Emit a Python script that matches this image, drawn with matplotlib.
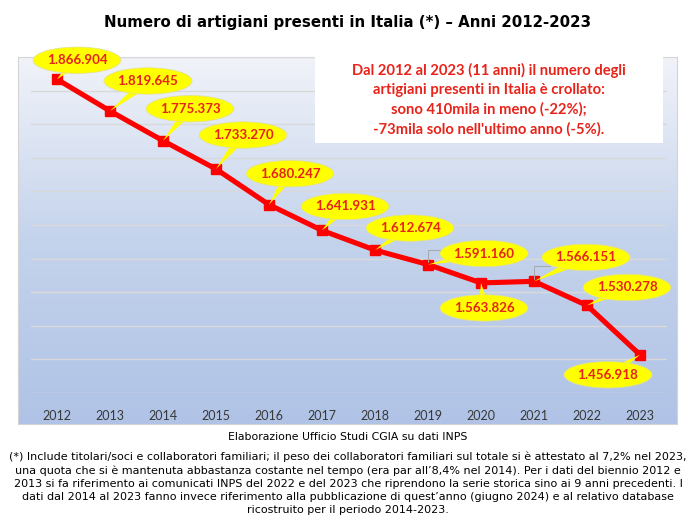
import numpy as np
import matplotlib
matplotlib.use('Agg')
import matplotlib.pyplot as plt
from matplotlib.patches import Rectangle
from matplotlib.colors import LinearSegmentedColormap

years = ['2012', '2013', '2014', '2015', '2016', '2017',
         '2018', '2019', '2020', '2021', '2022', '2023']
artigiani = [1866904, 1819645, 1775373, 1733270, 1680247, 1641931,
             1612674, 1591160, 1563826, 1566151, 1530278, 1456918]
labels = [f'{v:,}'.replace(',', '.') for v in artigiani]

# where each yellow callout sits, relative to its point (pixels)
offsets = [(20, 19), (38, 30), (27, 32), (27, 34), (21, 31), (23, 24),
           (35, 22), (56, 11), (3, -25), (52, 24), (40, 18), (-32, -20)]
# callouts that also have a thin grey leader line
leaders = [7, 9]

title = 'Numero di artigiani presenti in Italia (*) – Anni 2012-2023'
box_text = ("Dal 2012 al 2023 (11 anni) il numero degli\n"
            "artigiani presenti in Italia è crollato:\n"
            "sono 410mila in meno (-22%);\n"
            "-73mila solo nell'ultimo anno (-5%).")
source = 'Elaborazione Ufficio Studi CGIA su dati INPS'
note = ("(*) Include titolari/soci e collaboratori familiari; il peso dei collaboratori familiari sul totale si è attestato al 7,2% nel 2023,\n"
        "una quota che si è mantenuta abbastanza costante nel tempo (era par all’8,4% nel 2014). Per i dati del biennio 2012 e\n"
        "2013 si fa riferimento ai comunicati INPS del 2022 e del 2023 che riprendono la serie storica sino ai 9 anni precedenti. I\n"
        "dati dal 2014 al 2023 fanno invece riferimento alla pubblicazione di quest’anno (giugno 2024) e al relativo database\n"
        "ricostruito per il periodo 2014-2023.")

W, H = 696, 523
fig = plt.figure(figsize=(W / 100, H / 100), dpi=100)
fig.patch.set_facecolor('white')

def fx(px):
    return px / W

def fy(py):
    return 1 - py / H

# gradient panel behind the chart
bg = fig.add_axes([fx(18), fy(424), fx(677 - 18), (424 - 57) / H], zorder=0)
cmap = LinearSegmentedColormap.from_list('panel', ['#b0c3e6', '#c4d3ec', '#f1f3f9'])
bg.imshow(np.linspace(0, 1, 256).reshape(-1, 1)[::-1], aspect='auto', cmap=cmap,
          extent=[0, 1, 0, 1])
bg.set_xticks([])
bg.set_yticks([])
for s in bg.spines.values():
    s.set_color('#d4d4d4')

ax = fig.add_axes([fx(30.5), fy(393), fx(636), (393 - 57) / H], zorder=1)
ax.patch.set_alpha(0)
x = np.arange(len(years))
ax.plot(x, artigiani, color='#ff0000', lw=3.7, marker='s', ms=6.5,
        solid_joinstyle='round', zorder=3)
ax.set_xlim(-0.5, len(years) - 0.5)
ax.set_ylim(1400000, 1900000)
ax.set_yticks(np.arange(1400000, 1900001, 50000))
ax.yaxis.grid(True, color='#d9d9d9', lw=1)
ax.set_axisbelow(True)
ax.tick_params(left=False, labelleft=False, bottom=False)
ax.set_xticks(x)
ax.set_xticklabels(years, fontfamily='Lato', fontsize=9, color='#383838')
ax.tick_params(axis='x', pad=8.5)
for s in ax.spines.values():
    s.set_visible(False)

for i in leaders:
    ax.annotate('', xy=(x[i], artigiani[i]), xytext=(16, 15), textcoords='offset pixels',
                arrowprops=dict(arrowstyle='-', color='#a6a6a6', lw=0.7, shrinkA=0, shrinkB=2,
                                connectionstyle='angle,angleA=0,angleB=90,rad=0'),
                zorder=3.5)

for xi, v, lab, (dx, dy) in zip(x, artigiani, labels, offsets):
    ax.annotate(lab, xy=(xi, v), xytext=(dx, dy), textcoords='offset pixels',
                ha='center', va='center', fontfamily='Lato', fontweight='bold',
                fontsize=9.6, color='#e8231a', zorder=4,
                bbox=dict(boxstyle='ellipse,pad=0.05', mutation_aspect=5,
                          fc='#ffff00', ec='#e0e090', lw=0.5),
                arrowprops=dict(arrowstyle='wedge,tail_width=0.8,shrink_factor=0.5',
                                fc='#ffff00', ec='none', shrinkA=0, shrinkB=0,
                                patchA=None))

# white comment box
fig.patches.append(Rectangle((fx(315), fy(143)), fx(663 - 315), (143 - 55) / H,
                             transform=fig.transFigure, fc='white', ec='none', zorder=2))
fig.text(fx(489), fy(99.5), box_text, ha='center', va='center', ma='center',
         fontfamily='Lato', fontweight='bold', fontsize=10.6, color='#e8231a',
         linespacing=1.45, zorder=3)

fig.text(fx(348), fy(23), title, ha='center', va='center',
         fontfamily='DejaVu Sans', fontweight='bold', fontsize=10.8, color='black')
fig.text(fx(348), fy(437), source, ha='center', va='center',
         fontfamily='DejaVu Sans', fontsize=7.8, color='black')
fig.text(fx(348), fy(483), note, ha='center', va='center', ma='center',
         fontfamily='DejaVu Sans', fontsize=8.0, color='black', linespacing=1.38)

fig.savefig('out.png', dpi=100)
